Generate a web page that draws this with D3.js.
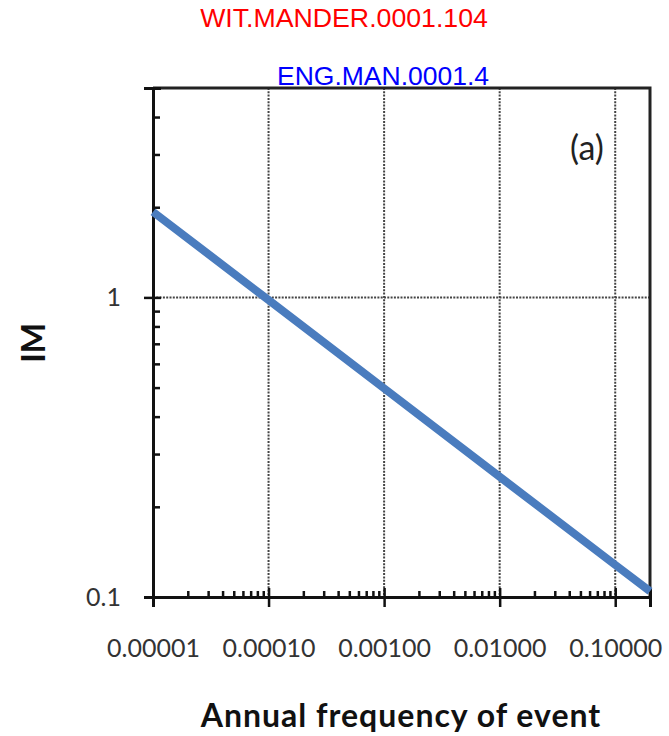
<!DOCTYPE html>
<html>
<head>
<meta charset="utf-8">
<script src="https://cdn.jsdelivr.net/npm/d3@7"></script>
<style>
  html, body { margin: 0; padding: 0; background: #ffffff; }
  svg { display: block; }
</style>
</head>
<body>
<script>
// Hazard curve: intensity measure against annual frequency of exceedance
const frequencies = [0.00001, 0.0001, 0.001, 0.01, 0.1, 0.2];
const imValues = [1.93, 0.98, 0.497, 0.252, 0.128, 0.1045];

const xMajorTicks = [0.00001, 0.0001, 0.001, 0.01, 0.1];
const xTickLabels = ["0.00001", "0.00010", "0.00100", "0.01000", "0.10000"];
const yMajorTicks = [0.1, 1];
const yTickLabels = ["0.1", "1"];

const titleText = "WIT.MANDER.0001.104";
const subtitleText = "ENG.MAN.0001.4";
const xAxisTitle = "Annual frequency of event";
const yAxisTitle = "IM";
const panelLabel = "(a)";

const width = 669, height = 736;
const plot = { left: 153, right: 650, top: 88, bottom: 597 };

const svg = d3.select("body").append("svg")
  .attr("width", width).attr("height", height);

const x = d3.scaleLog().domain([0.00001, 0.2]).range([plot.left, plot.right]);
const y = d3.scaleLog().domain([0.1, 5]).range([plot.bottom, plot.top]);

// Minor tick positions: 2..9 within each decade
function minorTicks(scale) {
  const [lo, hi] = scale.domain();
  const out = [];
  for (let e = Math.floor(Math.log10(lo)); e <= Math.ceil(Math.log10(hi)); e++) {
    for (let m = 2; m <= 9; m++) {
      const v = m * Math.pow(10, e);
      if (v > lo * 1.0001 && v < hi * 0.9999) out.push(v);
    }
  }
  return out;
}

const tickFont = "Lato, 'Open Sans', sans-serif";
const tickColor = "#333333";

// Dotted grid lines at major decades
const grid = svg.append("g").attr("class", "grid");
grid.selectAll("line.vg")
  .data(xMajorTicks.filter(d => d > 0.00001))
  .join("line")
  .attr("class", "vg")
  .attr("x1", d => x(d)).attr("x2", d => x(d))
  .attr("y1", plot.top).attr("y2", plot.bottom)
  .attr("stroke", "#444").attr("stroke-width", 2)
  .attr("stroke-dasharray", "2,1.3");
grid.selectAll("line.hg")
  .data(yMajorTicks.filter(d => d > 0.1))
  .join("line")
  .attr("class", "hg")
  .attr("x1", plot.left).attr("x2", plot.right)
  .attr("y1", d => y(d)).attr("y2", d => y(d))
  .attr("stroke", "#444").attr("stroke-width", 2)
  .attr("stroke-dasharray", "2,1.3");

// Top and right frame
svg.append("path")
  .attr("d", `M${plot.left},${plot.top}H${plot.right}V${plot.bottom}`)
  .attr("fill", "none").attr("stroke", "#222").attr("stroke-width", 3);

// X axis: labelled major ticks below, inner parts and minor ticks above
const xAxisG = svg.append("g").attr("transform", `translate(0,${plot.bottom})`);
xAxisG.call(d3.axisBottom(x).tickValues(xMajorTicks).tickSize(10).tickPadding(32)
  .tickFormat((d, i) => xTickLabels[i]));
xAxisG.append("g").call(d3.axisBottom(x).tickValues(xMajorTicks).tickSize(-9).tickFormat(""));
xAxisG.append("g").call(d3.axisBottom(x).tickValues(minorTicks(x)).tickSize(-6).tickFormat(""));

// Y axis: labelled major ticks to the left, inner parts and minor ticks to the right
const yAxisG = svg.append("g").attr("transform", `translate(${plot.left},0)`);
yAxisG.call(d3.axisLeft(y).tickValues(yMajorTicks).tickSize(9).tickPadding(23)
  .tickFormat((d, i) => yTickLabels[i]));
yAxisG.append("g").call(d3.axisLeft(y).tickValues(yMajorTicks).tickSize(-8).tickFormat(""));
yAxisG.append("g").call(d3.axisLeft(y).tickValues(minorTicks(y)).tickSize(-7).tickFormat(""));

svg.selectAll(".domain").attr("stroke", "#111").attr("stroke-width", 3);
svg.selectAll(".tick line").attr("stroke", "#111").attr("stroke-width", 2.5);
svg.selectAll(".tick text")
  .attr("font-family", tickFont).attr("font-size", 25).attr("fill", tickColor);

// Hazard curve
const line = d3.line().x((d, i) => x(frequencies[i])).y(d => y(d));
svg.append("path")
  .datum(imValues)
  .attr("d", line)
  .attr("fill", "none")
  .attr("stroke", "#4a7cbe")
  .attr("stroke-width", 8)
  .attr("stroke-linecap", "butt");

// Titles
svg.append("text")
  .attr("x", 344).attr("y", 27)
  .attr("text-anchor", "middle")
  .attr("font-family", "'Liberation Sans', Arial, sans-serif")
  .attr("font-size", 26.7).attr("fill", "#ff0000")
  .text(titleText);
svg.append("text")
  .attr("x", 383).attr("y", 85)
  .attr("text-anchor", "middle")
  .attr("font-family", "'Liberation Sans', Arial, sans-serif")
  .attr("font-size", 26.5).attr("fill", "#0000ff")
  .text(subtitleText);

// Axis titles
svg.append("text")
  .attr("x", 401).attr("y", 727)
  .attr("text-anchor", "middle")
  .attr("font-family", tickFont).attr("font-weight", "bold")
  .attr("font-size", 32).attr("letter-spacing", 1).attr("fill", "#111")
  .text(xAxisTitle);
svg.append("text")
  .attr("transform", "translate(45,343) rotate(-90)")
  .attr("text-anchor", "middle")
  .attr("font-family", tickFont).attr("font-weight", "bold")
  .attr("font-size", 32).attr("fill", "#111")
  .text(yAxisTitle);

// Panel label
svg.append("text")
  .attr("x", 587).attr("y", 160)
  .attr("text-anchor", "middle")
  .attr("font-family", tickFont)
  .attr("font-size", 34).attr("fill", "#222")
  .text(panelLabel);
</script>
</body>
</html>
